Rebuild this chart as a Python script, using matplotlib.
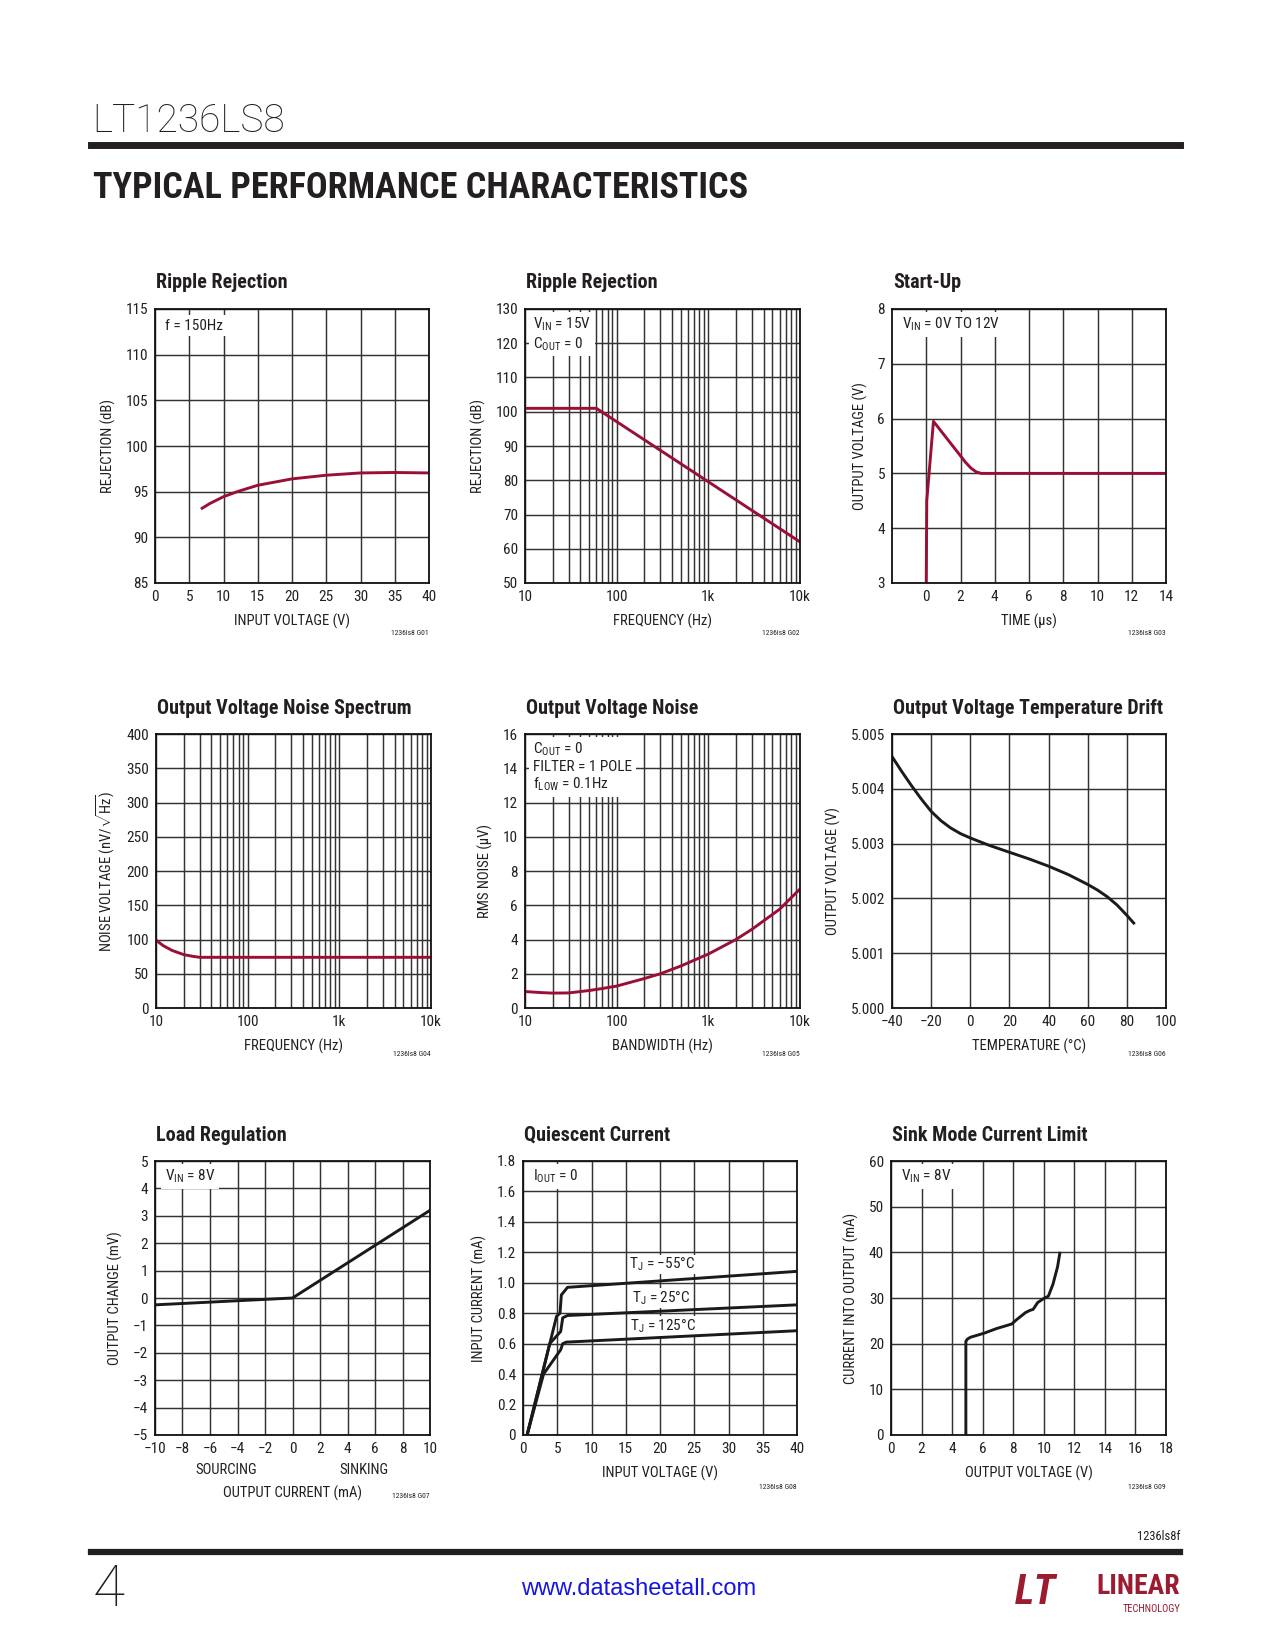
import matplotlib
matplotlib.use("Agg")
import matplotlib.pyplot as plt
from matplotlib import font_manager
from matplotlib.ticker import NullFormatter, LogLocator
from matplotlib.lines import Line2D

# ---------------- data ----------------
log_ticks = [10, 100, 1000, 10000]
log_labels = ["10", "100", "1k", "10k"]

# G01 Ripple rejection vs input voltage
g01_vin = [6.7, 8, 10, 12, 15, 20, 25, 30, 35, 40]
g01_rej = [93.1, 93.7, 94.45, 95.0, 95.7, 96.4, 96.8, 97.05, 97.1, 97.05]
g01_xticks = [0, 5, 10, 15, 20, 25, 30, 35, 40]
g01_yticks = [85, 90, 95, 100, 105, 110, 115]

# G02 Ripple rejection vs frequency
g02_freq = [10, 60, 10000]
g02_rej = [101, 101, 62]
g02_yticks = [50, 60, 70, 80, 90, 100, 110, 120, 130]

# G03 Start-up
g03_t = [0, 0.03, 0.42, 2.0, 2.3, 2.6, 2.9, 3.2, 14]
g03_v = [3.0, 4.5, 5.95, 5.32, 5.2, 5.1, 5.03, 5.0, 5.0]
g03_xticks = [0, 2, 4, 6, 8, 10, 12, 14]
g03_yticks = [3, 4, 5, 6, 7, 8]

# G04 Output voltage noise spectrum
g04_freq = [10, 12, 15, 20, 25, 30, 10000]
g04_noise = [99, 91, 84, 78, 75.5, 74, 74]
g04_yticks = [0, 50, 100, 150, 200, 250, 300, 350, 400]

# G05 Output voltage noise vs bandwidth
g05_bw = [10, 15, 20, 30, 50, 70, 100, 200, 300, 500, 1000, 2000, 3000, 6000, 10000]
g05_noise = [0.96, 0.9, 0.87, 0.88, 1.02, 1.14, 1.28, 1.72, 2.0, 2.45, 3.15, 4.0, 4.6, 5.77, 6.95]
g05_yticks = [0, 2, 4, 6, 8, 10, 12, 14, 16]

# G06 Output voltage temperature drift
g06_temp = [-40, -35, -30, -25, -20, -15, -10, -5, 0, 10, 20, 30, 40, 50, 60, 65, 70, 75, 80, 83.5]
g06_vout = [5.004588, 5.004315, 5.004055, 5.003812, 5.003588, 5.003418, 5.003285,
            5.003182, 5.003103, 5.002964, 5.002842, 5.002721, 5.002588, 5.002436,
            5.002255, 5.002152, 5.002030, 5.001879, 5.001691, 5.00155]
g06_xticks = [-40, -20, 0, 20, 40, 60, 80, 100]
g06_yticks = [5.000, 5.001, 5.002, 5.003, 5.004, 5.005]
g06_ylabels = ["5.000", "5.001", "5.002", "5.003", "5.004", "5.005"]

# G07 Load regulation
g07_iout = [-10, 0, 10]
g07_dv = [-0.25, 0.0, 3.2]
g07_xticks = [-10, -8, -6, -4, -2, 0, 2, 4, 6, 8, 10]
g07_yticks = [-5, -4, -3, -2, -1, 0, 1, 2, 3, 4, 5]

# G08 Quiescent current
g08_vin_m55 = [0.6, 4.9, 5.4, 5.6, 6.5, 40]
g08_i_m55 = [0.0, 0.78, 0.80, 0.92, 0.97, 1.075]
g08_vin_25 = [0.6, 3.9, 5.5, 5.8, 6.5, 40]
g08_i_25 = [0.0, 0.60, 0.68, 0.77, 0.785, 0.855]
g08_vin_125 = [0.6, 3.0, 5.5, 5.8, 6.3, 40]
g08_i_125 = [0.0, 0.40, 0.56, 0.60, 0.61, 0.685]
g08_xticks = [0, 5, 10, 15, 20, 25, 30, 35, 40]
g08_yticks = [0, 0.2, 0.4, 0.6, 0.8, 1.0, 1.2, 1.4, 1.6, 1.8]
g08_ylabels = ["0", "0.2", "0.4", "0.6", "0.8", "1.0", "1.2", "1.4", "1.6", "1.8"]

# G09 Sink mode current limit
g09_vout = [4.9, 4.9, 5.0, 5.2, 6.1, 6.9, 7.9, 8.2, 8.5, 8.8, 9.1, 9.3, 9.6, 10.0, 10.3, 10.6, 10.9, 11.05]
g09_i = [0, 20.5, 21.0, 21.4, 22.3, 23.3, 24.3, 25.2, 26.0, 26.8, 27.3, 27.5, 29.0, 29.9, 30.4, 33.0, 36.8, 39.8]
g09_xticks = [0, 2, 4, 6, 8, 10, 12, 14, 16, 18]
g09_yticks = [0, 10, 20, 30, 40, 50, 60]

# ---------------- style ----------------
W, H = 1275, 1650
names = {f.name for f in font_manager.fontManager.ttflist}
NARROW = next((n for n in ["Liberation Sans Narrow", "Roboto Condensed", "Liberation Sans"] if n in names), "DejaVu Sans")
THIN = "Roboto" if "Roboto" in names else NARROW
plt.rcParams["font.family"] = [NARROW, "DejaVu Sans"]
plt.rcParams["mathtext.fontset"] = "custom"
plt.rcParams["mathtext.rm"] = NARROW
plt.rcParams["mathtext.it"] = NARROW
plt.rcParams["mathtext.bf"] = NARROW + ":bold"

TXT = "#231f20"
RED = "#990f35"
GRID = "#333333"
GLW = 1.05
CLW = 2.1

fig = plt.figure(figsize=(W / 100, H / 100), dpi=100)


def ft(x, y, s, **kw):
    kw.setdefault("color", TXT)
    return fig.text(x / W, 1 - y / H, s, **kw)


def axes_at(l, t, r, b):
    return fig.add_axes([l / W, 1 - b / H, (r - l) / W, (b - t) / H])


def style(ax, xlim, ylim, xticks, xlabels, yticks, ylabels, logx=False):
    if logx:
        ax.set_xscale("log")
    ax.set_xlim(xlim)
    ax.set_ylim(ylim)
    ax.set_xticks(xticks)
    ax.set_xticklabels(xlabels)
    ax.set_yticks(yticks)
    ax.set_yticklabels(ylabels)
    if logx:
        ax.xaxis.set_minor_locator(LogLocator(base=10, subs=range(2, 10), numticks=30))
        ax.xaxis.set_minor_formatter(NullFormatter())
        ax.grid(True, which="minor", axis="x", color=GRID, lw=GLW)
    ax.grid(True, which="major", color=GRID, lw=GLW)
    ax.tick_params(which="both", length=0, pad=5, labelsize=11, colors=TXT)
    for s in ax.spines.values():
        s.set_linewidth(1.3)
        s.set_color("#111111")
    ax.set_axisbelow(True)


def title(ax, s):
    ax.annotate(s, xy=(0, 1), xycoords="axes fraction", xytext=(1, 26),
                textcoords="offset pixels", ha="left", va="center",
                fontsize=14.5, fontweight="bold", color=TXT)


def figid(ax, s, dy=-50):
    ax.annotate(s, xy=(1, 0), xycoords="axes fraction", xytext=(0, dy),
                textcoords="offset pixels", ha="right", va="center",
                fontsize=5.5, color=TXT)


def note(ax, s, x=0.03, y=0.975):
    ax.text(x, y, s, transform=ax.transAxes, ha="left", va="top", fontsize=11,
            color=TXT, linespacing=1.15,
            bbox=dict(boxstyle="square,pad=0.25", fc="white", ec="none"), zorder=3)


def labels(ax, xl, yl):
    if xl:
        ax.set_xlabel(xl, fontsize=10.5, labelpad=7, color=TXT)
    ax.set_ylabel(yl, fontsize=10.5, labelpad=7, color=TXT)


ROW1 = (309, 583)
ROW2 = (734, 1008)
ROW3 = (1161, 1435)

# ---------- G01 ----------
ax = axes_at(155, ROW1[0], 429, ROW1[1])
style(ax, (0, 40), (85, 115), g01_xticks, [str(v) for v in g01_xticks],
      g01_yticks, [str(v) for v in g01_yticks])
ax.plot(g01_vin, g01_rej, color=RED, lw=CLW, solid_capstyle="butt")
labels(ax, "INPUT VOLTAGE (V)", "REJECTION (dB)")
title(ax, "Ripple Rejection")
note(ax, "f = 150Hz", 0.035, 0.965)
figid(ax, "1236ls8 G01")

# ---------- G02 ----------
ax = axes_at(525, ROW1[0], 800, ROW1[1])
style(ax, (10, 10000), (50, 130), log_ticks, log_labels,
      g02_yticks, [str(v) for v in g02_yticks], logx=True)
ax.plot(g02_freq, g02_rej, color=RED, lw=CLW)
labels(ax, "FREQUENCY (Hz)", "REJECTION (dB)")
title(ax, "Ripple Rejection")
note(ax, "V$_{\\mathrm{IN}}$ = 15V\nC$_{\\mathrm{OUT}}$ = 0", 0.03, 0.975)
figid(ax, "1236ls8 G02")

# ---------- G03 ----------
ax = axes_at(892, ROW1[0], 1166, ROW1[1])
style(ax, (-2, 14), (3, 8), g03_xticks, [str(v) for v in g03_xticks],
      g03_yticks, [str(v) for v in g03_yticks])
ax.plot(g03_t, g03_v, color=RED, lw=CLW)
labels(ax, "TIME (\u00b5s)", "OUTPUT VOLTAGE (V)")
title(ax, "Start-Up")
note(ax, "V$_{\\mathrm{IN}}$ = 0V TO 12V", 0.035, 0.975)
figid(ax, "1236ls8 G03")

# ---------- G04 ----------
ax = axes_at(156, ROW2[0], 431, ROW2[1])
style(ax, (10, 10000), (0, 400), log_ticks, log_labels,
      g04_yticks, [str(v) for v in g04_yticks], logx=True)
ax.plot(g04_freq, g04_noise, color=RED, lw=CLW)
labels(ax, "FREQUENCY (Hz)", "NOISE VOLTAGE (nV/$\\sqrt{\\mathrm{Hz}}$)")
title(ax, "Output Voltage Noise Spectrum")
figid(ax, "1236ls8 G04", dy=-46)

# ---------- G05 ----------
ax = axes_at(525, ROW2[0], 800, ROW2[1])
style(ax, (10, 10000), (0, 16), log_ticks, log_labels,
      g05_yticks, [str(v) for v in g05_yticks], logx=True)
ax.plot(g05_bw, g05_noise, color=RED, lw=CLW)
labels(ax, "BANDWIDTH (Hz)", "RMS NOISE (\u00b5V)")
title(ax, "Output Voltage Noise")
note(ax, "C$_{\\mathrm{OUT}}$ = 0\nFILTER = 1 POLE\nf$_{\\mathrm{LOW}}$ = 0.1Hz", 0.03, 0.975)
figid(ax, "1236ls8 G05", dy=-46)

# ---------- G06 ----------
ax = axes_at(892, ROW2[0], 1166, ROW2[1])
style(ax, (-40, 100), (5.000, 5.005), g06_xticks,
      [str(v).replace("-", "\u2212") for v in g06_xticks], g06_yticks, g06_ylabels)
ax.plot(g06_temp, g06_vout, color="#1a1a1a", lw=CLW, solid_joinstyle="round")
labels(ax, "TEMPERATURE (\u00b0C)", "OUTPUT VOLTAGE (V)")
title(ax, "Output Voltage Temperature Drift")
figid(ax, "1236ls8 G06", dy=-46)

# ---------- G07 ----------
ax = axes_at(155, ROW3[0], 430, ROW3[1])
style(ax, (-10, 10), (-5, 5), g07_xticks,
      [str(v).replace("-", "\u2212") for v in g07_xticks], g07_yticks,
      [str(v).replace("-", "\u2212") for v in g07_yticks])
ax.plot(g07_iout, g07_dv, color="#1a1a1a", lw=CLW)
labels(ax, None, "OUTPUT CHANGE (mV)")
title(ax, "Load Regulation")
note(ax, "V$_{\\mathrm{IN}}$ = 8V", 0.035, 0.975)
for xf, dy, s in [(0.26, -35, "SOURCING"), (0.76, -35, "SINKING"), (0.5, -58, "OUTPUT CURRENT (mA)")]:
    ax.annotate(s, xy=(xf, 0), xycoords="axes fraction", xytext=(0, dy),
                textcoords="offset pixels", ha="center", va="center",
                fontsize=10.5, color=TXT)
figid(ax, "1236ls8 G07", dy=-61)

# ---------- G08 ----------
ax = axes_at(523, ROW3[0], 797, ROW3[1])
style(ax, (0, 40), (0, 1.8), g08_xticks, [str(v) for v in g08_xticks],
      g08_yticks, g08_ylabels)
for xs, ys in [(g08_vin_m55, g08_i_m55), (g08_vin_25, g08_i_25), (g08_vin_125, g08_i_125)]:
    ax.plot(xs, ys, color="#1a1a1a", lw=CLW, solid_joinstyle="round")
for x, y, s in [(15.5, 1.12, "T$_{\\mathrm{J}}$ = \u221255\u00b0C"),
                (15.9, 0.90, "T$_{\\mathrm{J}}$ = 25\u00b0C"),
                (15.6, 0.715, "T$_{\\mathrm{J}}$ = 125\u00b0C")]:
    ax.text(x, y, s, ha="left", va="center", fontsize=11, color=TXT, zorder=1.5,
            bbox=dict(boxstyle="square,pad=0.08", fc="white", ec="none"))
labels(ax, "INPUT VOLTAGE (V)", "INPUT CURRENT (mA)")
title(ax, "Quiescent Current")
note(ax, "I$_{\\mathrm{OUT}}$ = 0", 0.035, 0.975)
figid(ax, "1236ls8 G08", dy=-52)

# ---------- G09 ----------
ax = axes_at(891, ROW3[0], 1166, ROW3[1])
style(ax, (0, 18), (0, 60), g09_xticks, [str(v) for v in g09_xticks],
      g09_yticks, [str(v) for v in g09_yticks])
ax.plot(g09_vout, g09_i, color="#1a1a1a", lw=CLW)
labels(ax, "OUTPUT VOLTAGE (V)", "CURRENT INTO OUTPUT (mA)")
title(ax, "Sink Mode Current Limit")
note(ax, "V$_{\\mathrm{IN}}$ = 8V", 0.035, 0.975)
figid(ax, "1236ls8 G09", dy=-52)

# ---------------- page furniture ----------------
ft(92, 121, "LT1236LS8", fontsize=28, ha="left", va="center", family=THIN,
   fontweight="light")
fig.add_artist(Line2D([91 / W, 1180 / W], [1 - 144.5 / H] * 2, lw=5, color=TXT))
ft(93, 188, "TYPICAL PERFORMANCE CHARACTERISTICS", fontsize=26, fontweight="heavy",
   ha="left", va="center")

ft(1180, 1537, "1236ls8f", fontsize=9, ha="right", va="center")
fig.add_artist(Line2D([91 / W, 1180 / W], [1 - 1552 / H] * 2, lw=4.5, color=TXT))
ft(93, 1590, "4", fontsize=42, ha="left", va="center", family=THIN, fontweight="light")
ft(639, 1589, "www.datasheetall.com", fontsize=17, ha="center", va="center",
   color="#1414e6", family="Liberation Sans")
ft(1015, 1592, "LT", fontsize=30, fontweight="bold", style="italic", ha="left",
   va="center", color="#9b1b30")
ft(1180, 1586, "LINEAR", fontsize=20, fontweight="bold", ha="right", va="center",
   color="#9b1b30")
ft(1180, 1609, "TECHNOLOGY", fontsize=7.5, ha="right", va="center", color="#9b1b30")

fig.savefig("out.png", dpi=100, facecolor="white")
